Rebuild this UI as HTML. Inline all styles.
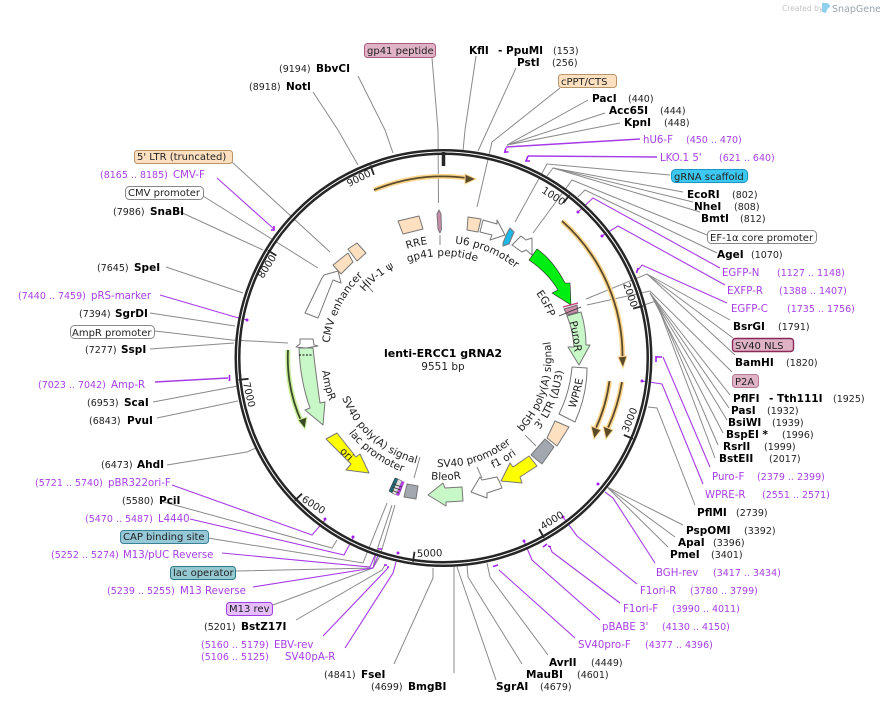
<!DOCTYPE html>
<html><head><meta charset="utf-8"><style>
html,body{margin:0;padding:0;background:#fff}
svg{display:block;font-family:"DejaVu Sans","Liberation Sans",sans-serif}
.n{font-size:10.5px;font-weight:bold;fill:#000}
.c{font-size:9.5px;fill:#222}
.p{font-size:10.2px;fill:#a63fe8}
.pc{font-size:9.5px;fill:#a63fe8}
.b{font-size:10px;fill:#222}
.f{font-size:10.5px;fill:#222}
.t{font-size:10px;fill:#222}
.g{fill:none;stroke:#8a8a8a;stroke-width:1}
.v{fill:none;stroke:#a63be8;stroke-width:1.1}
.h{fill:none;stroke:#a020f0;stroke-width:1.6}
.s{stroke:#777;stroke-width:1;stroke-linejoin:round}
</style></head><body>
<svg width="880" height="703" viewBox="0 0 880 703" xmlns="http://www.w3.org/2000/svg">
<defs>
<path id="t102" d="M443.5,256 A102,102 0 0 1 443.5,460"/>
<path id="t103" d="M443.5,255 A103,103 0 0 1 443.5,461"/>
<path id="t113" d="M443.5,245 A113,113 0 0 1 443.5,471"/>
<path id="t115" d="M443.5,243 A115,115 0 0 1 443.5,473"/>
<path id="t131" d="M443.5,227 A131,131 0 0 1 443.5,489"/>
<path id="b108" d="M443.5,466 A108,108 0 0 0 443.5,250"/>
<path id="b109" d="M443.5,467 A109,109 0 0 0 443.5,249"/>
<path id="b120" d="M443.5,478 A120,120 0 0 0 443.5,238"/>
<path id="b121" d="M443.5,479 A121,121 0 0 0 443.5,237"/>
<path id="b122" d="M443.5,480 A122,122 0 0 0 443.5,236"/>
<path id="b140" d="M443.5,498 A140,140 0 0 0 443.5,218"/>
<path id="b141" d="M443.5,499 A141,141 0 0 0 443.5,217"/>
</defs>
<rect width="880" height="703" fill="#fff"/>

<!-- created by -->
<text x="782" y="11" font-size="7.5" fill="#c4c4c4">Created by</text>
<path d="M822,3 h4 q4,0 4,4 q-3,1 -4,6 l-4,-1z" fill="#8fd0ee"/>
<text x="832" y="12" font-size="9.5" fill="#9aa4ad">SnapGene</text>

<!-- gray connector lines -->
<g class="g">
<polyline points="313,92 338,130 358,165"/>
<polyline points="358,76 385,130 393,153"/>
<polyline points="432,58 438,130 438.5,203"/>
<polyline points="440,235 440,245"/>
<polyline points="476,56 465,130 463,151"/>
<polyline points="516,68 478,151"/>
<polyline points="560,88 492,142 477,207"/>
<polyline points="588,100 507,145"/>
<polyline points="605,113 507,145"/>
<polyline points="620,123 507,145"/>
<polyline points="670,175 547,164 515,222"/>
<polyline points="683,192 553,168 547,176"/>
<polyline points="693,202 553,168"/>
<polyline points="700,212 553,168"/>
<polyline points="707,235 572,180 533,233"/>
<polyline points="717,253 585,190 578,197"/>
<polyline points="730,320 647,274 586,299"/>
<polyline points="733,338 647,274"/>
<polyline points="735,355 647,274"/>
<polyline points="732,372 650,291 587,305"/>
<polyline points="730,395 650,293"/>
<polyline points="729,408 650,293"/>
<polyline points="727,420 650,293"/>
<polyline points="723,433 650,293"/>
<polyline points="718,445 656,301 641,306"/>
<polyline points="715,458 656,301"/>
<polyline points="648,407 657,408 695,505"/>
<polyline points="683,525 607,487"/>
<polyline points="675,537 607,487"/>
<polyline points="668,547 607,487"/>
<polyline points="487,563 490,577 548,655"/>
<polyline points="467,565 468,577 522,664"/>
<polyline points="457,567 496,680"/>
<polyline points="433,568 433,578 394,664"/>
<polyline points="296,620 382,570 385,565"/>
<polyline points="273,605 373,568 380,556 395,505"/>
<polyline points="236,571 373,568 376,553 392,505"/>
<polyline points="208,538 363,563 387,503"/>
<polyline points="160,501 332,548 337,540"/>
<polyline points="232,162 330,252"/>
<polyline points="203,196 318,268"/>
<polyline points="178,211 263,250"/>
<polyline points="166,267 243,293"/>
<polyline points="150,313 235,326"/>
<polyline points="155,331 232,340 288,343"/>
<polyline points="150,349 234,343"/>
<polyline points="153,402 238,386"/>
<polyline points="157,418 238,401"/>
<polyline points="167,465 247,452 256,448"/>
<polyline points="362,280 373,292"/>
<polyline points="525,435 536,446"/>
<polyline points="414,478 420,457"/>
<polyline points="477,467 482,478"/>
</g>
<line x1="454" y1="567" x2="454" y2="673" stroke="#aaa" stroke-width="1.4"/>

<!-- purple connector lines -->
<g class="v">
<polyline points="506,147 640,139" stroke-width="1.4"/>
<polyline points="528,156 657,157" stroke-width="1.4"/>
<polyline points="578,212 593,198 720,268"/>
<polyline points="602,236 618,226 725,285"/>
<polyline points="638,270 642,265 727,303"/>
<polyline points="663,357 710,467"/>
<polyline points="642,381 662,384 703,484"/>
<polyline points="605,492 613,498 655,563"/>
<polyline points="563,517 577,536 637,584"/>
<polyline points="550,547 552,552 620,603"/>
<polyline points="524,541 532,560 600,620"/>
<polyline points="499,570 575,638"/>
<polyline points="345,648 393,573 396,562"/>
<polyline points="323,636 388,568"/>
<polyline points="253,587 373,568 379,553"/>
<polyline points="222,553 370,567 376,553"/>
<polyline points="190,519 344,555 353,538"/>
<polyline points="172,485 312,535 325,520"/>
<polyline points="217,178 274,229"/>
<polyline points="160,295 235,317 247,320"/>
<polyline points="155,382 228,378" stroke-width="1.4"/>
</g>
<g class="h">
<path d="M506,148 l-1.5,5 m0,-1 h4"/>
<path d="M528,156 l-2,5 h4"/>
<path d="M638,268 l-1.5,5"/>
<path d="M656,356 v6 M656,357 h6"/>
<path d="M229.5,375 v6"/>
<path d="M274,226 v4 h-3"/>
<path d="M547,544 l-4,3 M548,546 l3,1"/>
<path d="M498,565 l-5,1.5"/>
<path d="M378,549 h4 M384,565 h3 M388,566 v2"/>
</g>
<g fill="#a020f0">
<circle cx="578" cy="212" r="1.5"/><circle cx="602" cy="236" r="1.5"/>
<circle cx="642" cy="381" r="1.5"/><circle cx="598" cy="484" r="1.5"/>
<circle cx="563" cy="517" r="1.5"/><circle cx="524" cy="541" r="1.5"/>
<circle cx="325" cy="519" r="1.5"/><circle cx="353" cy="537" r="1.5"/>
<circle cx="398" cy="553" r="1.5"/><circle cx="247" cy="320" r="1.5"/>
</g>

<!-- main ring -->
<circle cx="443.5" cy="358" r="206" fill="none" stroke="#262626" stroke-width="6"/>
<circle cx="443.5" cy="358" r="206" fill="none" stroke="#fff" stroke-width="1"/>
<g stroke="#262626" stroke-width="1.8">
<line x1="569.5" y1="195" x2="563.4" y2="203"/>
<line x1="642.8" y1="306" x2="633.2" y2="308.6"/>
<line x1="633" y1="438.8" x2="623.8" y2="434.9"/>
<line x1="544" y1="537.8" x2="539.1" y2="529.1"/>
<line x1="413" y1="561.7" x2="414.5" y2="551.8"/>
<line x1="294.8" y1="500.6" x2="302" y2="493.7"/>
<line x1="238.7" y1="379.9" x2="248.6" y2="378.8"/>
<line x1="267.9" y1="250.4" x2="276.4" y2="255.6"/>
<line x1="370.4" y1="165.4" x2="373.9" y2="174.8"/>
</g>
<line x1="443.5" y1="152" x2="443.5" y2="166" stroke="#262626" stroke-width="3.5"/>

<!-- tick labels -->
<g class="t">
<text transform="translate(349,187) rotate(-27)">9000</text>
<text transform="translate(541,192) rotate(33)">1000</text>
<text transform="translate(623,284) rotate(71)">2000</text>
<text transform="translate(628,433) rotate(-68)">3000</text>
<text transform="translate(543,530) rotate(-32)">4000</text>
<text transform="translate(417,557) rotate(-2)">5000</text>
<text transform="translate(301,501) rotate(32)">6000</text>
<text transform="translate(243,383) rotate(77)">7000</text>
<text transform="translate(263,279) rotate(-58)">8000</text>
</g>

<!-- orange / green arcs -->
<g fill="none" stroke-linecap="butt">
<path d="M374,190 A182,182 0 0 1 470,178.5" stroke="#fbd68f" stroke-width="5"/>
<path d="M374,190 A182,182 0 0 1 470,178.5" stroke="#5b4a2a" stroke-width="1.8"/>
<path d="M562,221 A181,181 0 0 1 622.5,358" stroke="#fbd68f" stroke-width="5"/>
<path d="M562,221 A181,181 0 0 1 622.5,358" stroke="#5b4a2a" stroke-width="1.8"/>
<path d="M609.5,381 A168,168 0 0 1 596,428" stroke="#fbd68f" stroke-width="5"/>
<path d="M609.5,381 A168,168 0 0 1 596,428" stroke="#5b4a2a" stroke-width="1.8"/>
<path d="M622,382 A180,180 0 0 1 608,428" stroke="#fbd68f" stroke-width="5"/>
<path d="M622,382 A180,180 0 0 1 608,428" stroke="#5b4a2a" stroke-width="1.8"/>
<path d="M288,350 A156,156 0 0 0 302,423" stroke="#c9ef9c" stroke-width="5"/>
<path d="M288,350 A156,156 0 0 0 302,423" stroke="#3a4a26" stroke-width="1.8"/>
</g>
<g fill="#5b4a2a" stroke="#fbd68f" stroke-width="1">
<polygon points="465,174 476,179 465,184"/>
<polygon points="618,357 627,356 623,368"/>
<polygon points="591,426 601,430 594,439"/>
<polygon points="603,426 613,430 606,439"/>
</g>
<polygon points="298,420 307,417 305,429" fill="#3a4a26" stroke="#c9ef9c"/>

<!-- features -->
<g class="s">
<path d="M305,313 L322,278 L324,275 L338,271 L341,283 L333,280 L318,318 Z" fill="#fff"/>
<polygon points="333,265 348,253 353,262 341,274" fill="#fde0c0"/>
<polygon points="348,249 357,243 366,253 357,261" fill="#fde0c0"/>
<polygon points="398,221 419,216 423,229 403,234" fill="#fde0c0"/>
<polygon points="437,214 439,210 441,214 441.5,229 440,233 438,229" fill="#c88ca8"/>
<polygon points="468,217 481,219 478,232 467,230" fill="#fde0c0"/>
<polygon points="483,220 497,224 497,220 505,235 490,240 492,235 480,232" fill="#fff"/>
<polygon points="507,233 510,228 514,232 509,244 503,246 503,243" fill="#1fb6e8"/>
<polygon points="512,245 521,236 526,240 532,238 532,255 526,250 522,252" fill="#fff"/>
<path d="M529,260 L537,249 Q553,260 565,283 L570,283 L571,305 L552,293 L558,290 Q548,273 529,260 Z" fill="#00ee11" stroke="#222" stroke-width=".6"/>
<path d="M567,316 L581,312 Q586,328 586,345 L590,345 L579,365 L568,347 L574,347 Q573,330 567,316 Z" fill="#c8f7c8"/>
<path d="M572,367 L587,368 Q587,395 575,422 L559,414 Q570,392 572,367 Z" fill="#fff"/>
<polygon points="555,421 569,427 557,446 547,438" fill="#fde0c0"/>
<polygon points="545,439 554,447 542,464 531,455" fill="#a3a8b0"/>
<polygon points="529,456 537,466 520,477 522,483 501,481 510,463 513,467" fill="#ffff00"/>
<polygon points="500,483 497,477 482,480 480,477 471,492 487,498 487,493 502,488" fill="#fff"/>
<polygon points="462,487 463,501 446,502 446,506 428,495 443,483 445,488" fill="#c8f7c8"/>
<polygon points="407,484 418,486 416,499 404,497" fill="#a3a8b0"/>
<polygon points="326,439 337,433 356,457 360,454 369,473 346,470 351,464" fill="#ffff00"/>
<path d="M299,348 L313,348 Q316,375 320,403 L325,402 L323,425 L305,410 L310,408 Q300,380 299,348 Z" fill="#c8f7c8"/>
<polygon points="300,339 313,339 314,345 318,346 306,348 296,347 300,344" fill="#fff"/>
</g>
<line x1="299" y1="355" x2="313" y2="355" stroke="#000" stroke-dasharray="2 1.5"/>
<!-- SV40 NLS / P2A -->
<polygon points="564,309 577,305 578,312 567,315" fill="#c88ca8" stroke="#555" stroke-width=".8"/>
<line x1="563" y1="307" x2="578" y2="303" stroke="#c03a78" stroke-width="1.2"/>
<line x1="559" y1="316" x2="581" y2="307" stroke="#333" stroke-width=".8"/>
<!-- lac/M13 stack -->
<g>
<polygon points="395,478 398,479 392,493 389,491" fill="#1f6e7c" stroke="#222" stroke-width=".5"/>
<polygon points="398,479 402,481 396,495 392,493" fill="#ddd" stroke="#444" stroke-width=".5"/>
<polygon points="402,481 404.5,482 399,496 396,495" fill="#b040e0"/>
<path d="M393,484 l9,3 M392,487 l9,3 M391,490 l8,3" stroke="#333" stroke-width=".7"/>
</g>

<!-- curved feature labels -->
<g class="f">
<text transform="rotate(-82.5 443.5 358)"><textPath href="#t115">CMV enhancer</textPath></text>
<text transform="rotate(-50 443.5 358)"><textPath href="#t103">HIV-1 ψ</textPath></text>
<text transform="rotate(-18.5 443.5 358)"><textPath href="#t115">RRE</textPath></text>
<text transform="rotate(-20.3 443.5 358)"><textPath href="#t102">gp41 peptide</textPath></text>
<text transform="rotate(5.7 443.5 358)"><textPath href="#t115">U6 promoter</textPath></text>
<text transform="rotate(55 443.5 358)"><textPath href="#t113">EGFP</textPath></text>
<text transform="rotate(74 443.5 358)"><textPath href="#t131">PuroR</textPath></text>
<text transform="rotate(-46.7 443.5 358)"><textPath href="#b108">bGH poly(A) signal</textPath></text>
<text transform="rotate(-53.3 443.5 358)"><textPath href="#b120">3' LTR (ΔU3)</textPath></text>
<text transform="rotate(-69 443.5 358)"><textPath href="#b141">WPRE</textPath></text>
<text transform="rotate(3.4 443.5 358)"><textPath href="#b109">SV40 promoter</textPath></text>
<text transform="rotate(-24.2 443.5 358)"><textPath href="#b121">f1 ori</textPath></text>
<text transform="rotate(5.9 443.5 358)"><textPath href="#b122">BleoR</textPath></text>
<text transform="rotate(48 443.5 358)"><textPath href="#b140">ori</textPath></text>
<text transform="rotate(84 443.5 358)"><textPath href="#b122">AmpR</textPath></text>
<text transform="rotate(68.5 443.5 358)"><textPath href="#b109">SV40 poly(A) signal</textPath></text>
<text transform="rotate(51.6 443.5 358)"><textPath href="#b121">lac promoter</textPath></text>
</g>

<!-- centre -->
<text x="443" y="357" text-anchor="middle" font-size="11" font-weight="bold">lenti-ERCC1 gRNA2</text>
<text x="443" y="370" text-anchor="middle" font-size="10.5" fill="#222">9551 bp</text>

<!-- boxes -->
<g stroke-width="1">
<rect x="364.5" y="43.5" width="71" height="14" rx="3" fill="#dfb2c6" stroke="#a8607e"/>
<rect x="558.5" y="74.5" width="58" height="13" rx="3" fill="#fde0c0" stroke="#b89468"/>
<rect x="671.5" y="169.5" width="76" height="13" rx="4" fill="#3cc8f0" stroke="#1a96c0"/>
<rect x="707.5" y="230.5" width="109" height="13" rx="4" fill="#fff" stroke="#888"/>
<rect x="732.5" y="338.5" width="61" height="13" rx="3" fill="#dfb2c6" stroke="#8a2a58" stroke-width="1.4"/>
<rect x="732.5" y="374.5" width="26" height="13" rx="3" fill="#dfb2c6" stroke="#b07a94"/>
<rect x="226.5" y="602.5" width="46" height="13" rx="3" fill="#e4bdfa" stroke="#a040e0"/>
<rect x="170.5" y="566.5" width="65" height="13" rx="3" fill="#96c8d2" stroke="#2a7a88"/>
<rect x="120.5" y="530.5" width="88" height="13" rx="3" fill="#96c8d8" stroke="#3a8298"/>
<rect x="70.5" y="325.5" width="84" height="13" rx="4" fill="#fff" stroke="#888"/>
<rect x="125.5" y="186.5" width="78" height="13" rx="4" fill="#fff" stroke="#888"/>
<rect x="134.5" y="150.5" width="98" height="13" rx="3" fill="#fde0c0" stroke="#b89468"/>
</g>
<g class="b">
<text x="367" y="54">gp41 peptide</text>
<text x="561" y="85">cPPT/CTS</text>
<text x="674" y="180">gRNA scaffold</text>
<text x="710" y="241">EF-1α core promoter</text>
<text x="735" y="349">SV40 NLS</text>
<text x="735" y="385">P2A</text>
<text x="229" y="612">M13 rev</text>
<text x="173" y="576">lac operator</text>
<text x="123" y="540">CAP binding site</text>
<text x="72" y="336">AmpR promoter</text>
<text x="128" y="196">CMV promoter</text>
<text x="137" y="160">5' LTR (truncated)</text>
</g>

<!-- enzyme names -->
<g class="n">
<text x="316" y="72">BbvCI</text><text x="286" y="90">NotI</text>
<text x="469" y="54">KflI</text><text x="498" y="54">- PpuMI</text>
<text x="517" y="66">PstI</text><text x="592" y="102">PacI</text>
<text x="609" y="114">Acc65I</text><text x="624" y="126">KpnI</text>
<text x="687" y="198">EcoRI</text><text x="694" y="210">NheI</text>
<text x="701" y="222">BmtI</text><text x="717" y="258">AgeI</text>
<text x="733" y="330">BsrGI</text><text x="735" y="366">BamHI</text>
<text x="733" y="402">PflFI</text><text x="769" y="402">- Tth111I</text>
<text x="731" y="414">PasI</text><text x="728" y="426">BsiWI</text>
<text x="726" y="438">BspEI *</text><text x="723" y="450">RsrII</text>
<text x="719" y="462">BstEII</text><text x="697" y="516">PflMI</text>
<text x="686" y="534">PspOMI</text><text x="678" y="546">ApaI</text>
<text x="670" y="558">PmeI</text><text x="549" y="666">AvrII</text>
<text x="526" y="678">MauBI</text><text x="496" y="690">SgrAI</text>
<text x="408" y="690">BmgBI</text><text x="361" y="678">FseI</text>
<text x="241" y="630">BstZ17I</text><text x="159" y="504">PciI</text>
<text x="137" y="468">AhdI</text><text x="127" y="424">PvuI</text>
<text x="124" y="406">ScaI</text><text x="121" y="353">SspI</text>
<text x="115" y="317">SgrDI</text><text x="134" y="271">SpeI</text>
<text x="150" y="215">SnaBI</text>
</g>
<!-- enzyme coords -->
<g class="c">
<text x="279" y="72">(9194)</text><text x="249" y="90">(8918)</text>
<text x="553" y="54">(153)</text><text x="552" y="66">(256)</text>
<text x="628" y="102">(440)</text><text x="660" y="114">(444)</text>
<text x="664" y="126">(448)</text><text x="732" y="198">(802)</text>
<text x="734" y="210">(808)</text><text x="740" y="222">(812)</text>
<text x="751" y="258">(1070)</text><text x="778" y="330">(1791)</text>
<text x="786" y="366">(1820)</text><text x="833" y="402">(1925)</text>
<text x="767" y="414">(1932)</text><text x="772" y="426">(1939)</text>
<text x="782" y="438">(1996)</text><text x="764" y="450">(1999)</text>
<text x="769" y="462">(2017)</text><text x="736" y="516">(2739)</text>
<text x="744" y="534">(3392)</text><text x="713" y="546">(3396)</text>
<text x="711" y="558">(3401)</text><text x="591" y="666">(4449)</text>
<text x="577" y="678">(4601)</text><text x="540" y="690">(4679)</text>
<text x="371" y="690">(4699)</text><text x="324" y="678">(4841)</text>
<text x="204" y="630">(5201)</text><text x="122" y="504">(5580)</text>
<text x="101" y="468">(6473)</text><text x="89" y="424">(6843)</text>
<text x="87" y="406">(6953)</text><text x="85" y="353">(7277)</text>
<text x="79" y="317">(7394)</text><text x="97" y="271">(7645)</text>
<text x="113" y="215">(7986)</text>
</g>
<!-- primers -->
<g class="p">
<text x="643" y="143">hU6-F</text><text x="660" y="161">LKO.1 5'</text>
<text x="722" y="276">EGFP-N</text><text x="727" y="294">EXFP-R</text>
<text x="731" y="312">EGFP-C</text><text x="712" y="480">Puro-F</text>
<text x="705" y="498">WPRE-R</text><text x="656" y="576">BGH-rev</text>
<text x="640" y="594">F1ori-R</text><text x="623" y="612">F1ori-F</text>
<text x="602" y="630">pBABE 3'</text><text x="578" y="648">SV40pro-F</text>
<text x="285" y="660">SV40pA-R</text><text x="274" y="648">EBV-rev</text>
<text x="180" y="594">M13 Reverse</text><text x="123" y="558">M13/pUC Reverse</text>
<text x="158" y="522">L4440</text><text x="108" y="486">pBR322ori-F</text>
<text x="111" y="388">Amp-R</text><text x="91" y="299">pRS-marker</text>
<text x="173" y="178">CMV-F</text>
</g>
<g class="pc">
<text x="686" y="143">(450 .. 470)</text><text x="719" y="161">(621 .. 640)</text>
<text x="777" y="276">(1127 .. 1148)</text><text x="779" y="294">(1388 .. 1407)</text>
<text x="787" y="312">(1735 .. 1756)</text><text x="757" y="480">(2379 .. 2399)</text>
<text x="762" y="498">(2551 .. 2571)</text><text x="713" y="576">(3417 .. 3434)</text>
<text x="690" y="594">(3780 .. 3799)</text><text x="672" y="612">(3990 .. 4011)</text>
<text x="662" y="630">(4130 .. 4150)</text><text x="645" y="648">(4377 .. 4396)</text>
<text x="201" y="660">(5106 .. 5125)</text><text x="201" y="648">(5160 .. 5179)</text>
<text x="107" y="594">(5239 .. 5255)</text><text x="51" y="558">(5252 .. 5274)</text>
<text x="85" y="522">(5470 .. 5487)</text><text x="35" y="486">(5721 .. 5740)</text>
<text x="38" y="388">(7023 .. 7042)</text><text x="18" y="299">(7440 .. 7459)</text>
<text x="100" y="178">(8165 .. 8185)</text>
</g>
</svg>
</body></html>
